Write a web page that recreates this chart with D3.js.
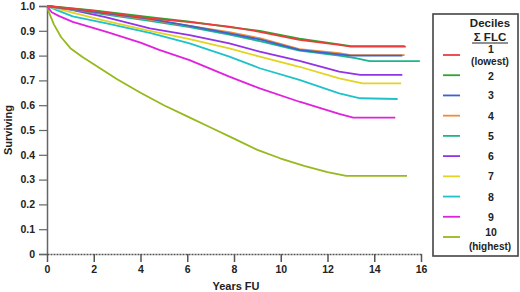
<!DOCTYPE html>
<html><head><meta charset="utf-8">
<script src="https://cdn.jsdelivr.net/npm/d3@7"></script>
<style>body{margin:0;background:#fff}svg{display:block}text{font-family:"Liberation Sans",Arial,sans-serif;font-weight:bold;fill:#222}</style>
</head><body><svg id="c" width="520" height="292"></svg>
<script>
const deciles = ["1","2","3","4","5","6","7","8","9","10"];
const subLabels = ["(lowest)","","","","","","","","","(highest)"];
const colors = ["#ee3b3b","#2aa62a","#3b62d0","#f08c3a","#1db58c","#9333e6","#e2d420","#1fc2c9","#e021de","#95b91e"];
const xTicks = [0,2,4,6,8,10,12,14,16];
const yTicks = [0,0.1,0.2,0.3,0.4,0.5,0.6,0.7,0.8,0.9,1.0];
// survival curves: [years, surviving]
const d1 = [[0,1],[2,0.98],[4.4,0.95],[6.1,0.935],[7.8,0.917],[9.1,0.896],[10.8,0.863],[12.5,0.843],[13,0.836],[15.35,0.836]];
const d2 = [[0,1],[2,0.982],[4.4,0.955],[6.1,0.937],[7.8,0.915],[9.1,0.9],[10.8,0.868],[12.5,0.845],[13,0.838],[15.3,0.838]];
const d3v = [[0,1],[2,0.976],[4.4,0.948],[6.1,0.92],[7.8,0.89],[9.1,0.865],[10.8,0.823],[12.5,0.805],[13,0.8],[15.2,0.8]];
const d4 = [[0,1],[2,0.975],[4.4,0.945],[6.1,0.92],[7.8,0.895],[9.1,0.87],[10.8,0.826],[12.5,0.81],[13,0.802],[15.3,0.802]];
const d5 = [[0,1],[2,0.972],[4.4,0.94],[6.1,0.915],[7.8,0.885],[9.1,0.858],[10.8,0.82],[12.5,0.8],[13.2,0.79],[13.8,0.778],[15.95,0.778]];
const d6 = [[0,1],[1,0.985],[2.5,0.955],[4.4,0.91],[6.1,0.883],[7.8,0.849],[9.1,0.816],[10.8,0.779],[12.5,0.735],[13.4,0.722],[15.2,0.722]];
const d7 = [[0,1],[1,0.975],[2.5,0.94],[4.4,0.9],[6.1,0.866],[7.8,0.829],[9.1,0.796],[10.8,0.755],[12.5,0.708],[13.5,0.688],[15.15,0.688]];
const d8 = [[0,1],[0.5,0.98],[1.1,0.958],[2.55,0.93],[4.4,0.892],[6.1,0.849],[7.8,0.796],[9.1,0.749],[10.8,0.702],[12.5,0.648],[13.4,0.628],[15.0,0.625]];
const d9 = [[0,1],[0.2,0.975],[0.5,0.96],[1.1,0.936],[2.55,0.896],[4.0,0.852],[4.8,0.823],[6.1,0.782],[7.8,0.715],[9.1,0.668],[10.8,0.614],[12.5,0.565],[13.1,0.55],[14.9,0.55]];
const d10 = [[0,1],[0.1,0.97],[0.3,0.925],[0.6,0.875],[1,0.83],[1.5,0.795],[2,0.765],[2.5,0.735],[3,0.705],[4,0.65],[5,0.6],[6,0.555],[7,0.51],[8,0.465],[9,0.42],[10,0.385],[11,0.355],[12,0.33],[12.8,0.315],[15.4,0.315]];
const series = [d1,d2,d3v,d4,d5,d6,d7,d8,d9,d10];

const svg = d3.select("#c");
const x = d3.scaleLinear().domain([0,16]).range([47,421]);
const y = d3.scaleLinear().domain([0,1]).range([254,6]);

// y axis
const ya = svg.append("g").attr("transform","translate(47,0)")
  .call(d3.axisLeft(y).tickValues(yTicks).tickSize(8).tickPadding(4).tickFormat(d=>d===0?"0":d.toFixed(1)));
ya.select(".domain").attr("stroke","#666").attr("stroke-width",1.5);
ya.selectAll(".tick line").attr("stroke","#666").attr("stroke-width",1.2);
ya.selectAll("text").style("font-size","10.5px").attr("fill","#222");

// x axis
const xa = svg.append("g").attr("transform","translate(0,254)")
  .call(d3.axisBottom(x).tickValues(xTicks).tickSize(8).tickPadding(4).tickSizeOuter(0));
xa.select(".domain").attr("stroke","#555").attr("stroke-width",1.5).attr("stroke-dasharray","2,1");
xa.selectAll(".tick line").attr("stroke","#555").attr("stroke-width",1.5);
xa.selectAll("text").style("font-size","10.5px").attr("fill","#222");

svg.append("text").attr("x",236).attr("y",290).attr("text-anchor","middle").style("font-size","11px").text("Years FU");
svg.append("text").attr("transform","translate(12,130) rotate(-90)").attr("text-anchor","middle").style("font-size","11px").text("Surviving");

const line = d3.line().x(d=>x(d[0])).y(d=>y(d[1]));
for (let i = series.length-1; i>=0; i--) {
  svg.append("path").datum(series[i]).attr("d",line).attr("fill","none")
    .attr("stroke",colors[i]).attr("stroke-width",1.8).attr("stroke-linejoin","round");
}

// legend
const lg = svg.append("g");
lg.append("rect").attr("x",433).attr("y",14).attr("width",85).attr("height",242)
  .attr("fill","#fff").attr("stroke","#444").attr("stroke-width",1.6);
lg.append("text").attr("x",490).attr("y",27).attr("text-anchor","middle").style("font-size","11.5px").text("Deciles");
lg.append("text").attr("x",490).attr("y",41).attr("text-anchor","middle").style("font-size","11.5px").text("\u03A3 FLC");
lg.append("line").attr("x1",472).attr("x2",508).attr("y1",43).attr("y2",43).attr("stroke","#222").attr("stroke-width",1);
const ly = d3.scaleLinear().domain([0,9]).range([55,237]);
deciles.forEach((d,i)=>{
  const yy = ly(i);
  lg.append("line").attr("x1",443).attr("x2",460).attr("y1",yy).attr("y2",yy).attr("stroke",colors[i]).attr("stroke-width",1.8);
  const ty = i===0 ? yy-2 : (i===1 ? yy+5 : (subLabels[i] ? yy-1 : yy+4));
  lg.append("text").attr("x",491).attr("y",ty).attr("text-anchor","middle").style("font-size","10.5px").text(d);
  if (subLabels[i]) lg.append("text").attr("x",490).attr("y",yy+(i===0?10:13)).attr("text-anchor","middle").style("font-size","10px").text(subLabels[i]);
});
</script></body></html>
